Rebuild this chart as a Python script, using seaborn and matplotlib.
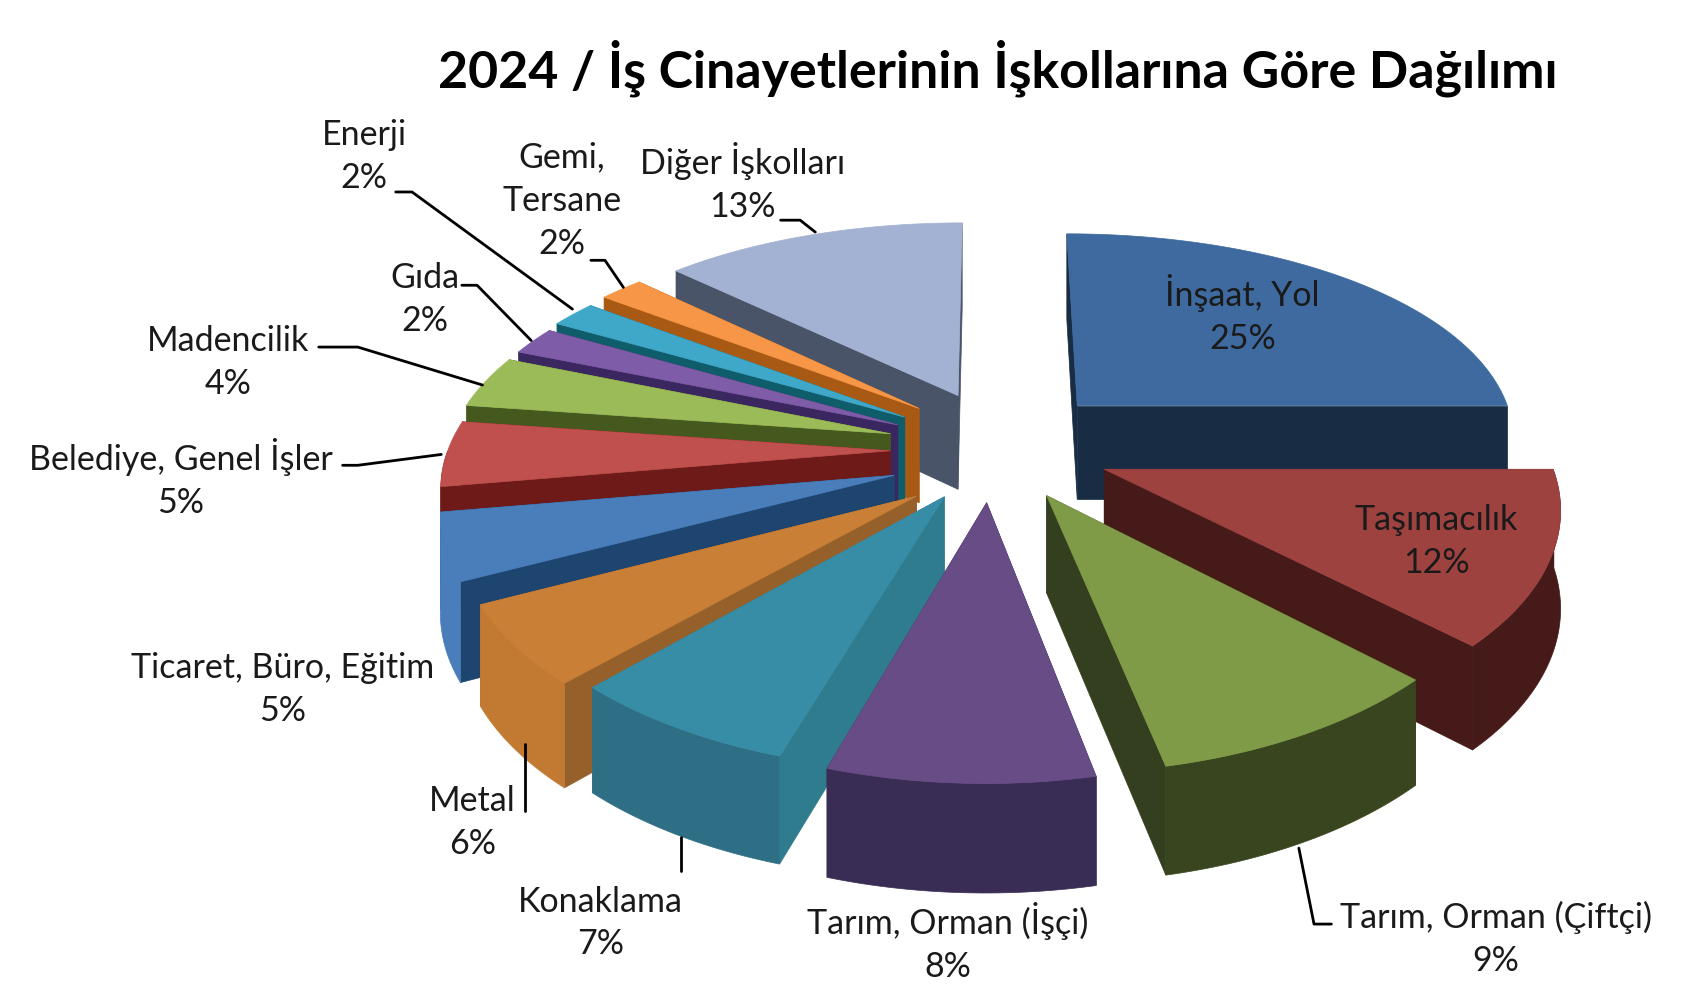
import numpy as np
import matplotlib
matplotlib.use("Agg")
import matplotlib.pyplot as plt
import seaborn as sns

# ---- data ----
categories = ["İnşaat, Yol", "Taşımacılık", "Tarım, Orman (Çiftçi)", "Tarım, Orman (İşçi)",
              "Konaklama", "Metal", "Ticaret, Büro, Eğitim", "Belediye, Genel İşler",
              "Madencilik", "Gıda", "Enerji", "Gemi,\nTersane", "Diğer İşkolları"]
values = [25.0, 12.4, 9.3, 8.1, 7.1, 5.7, 4.8, 4.8, 3.9, 2.1, 2.0, 1.9, 12.9]
explode = [0.28, 0.27, 0.25, 0.25, 0.21, 0.21, 0.23, 0.23, 0.24, 0.24, 0.24, 0.22, 0.20]
shift_y = [0, 0, 0, 0, 9, 20, 12, 3, 0, 0, -2, -8, -12]

top_colors = ["#3E6A9F", "#9E4240", "#7F9B47", "#684C85", "#378DA6", "#C97F35", "#4A7EBB",
              "#C0504D", "#9BBB59", "#7F5CA8", "#3FA8C8", "#F79646", "#A3B2D3"]
wall_colors = ["#182C44", "#451A18", "#333F1E", "#3C2D52", "#2F7C8F", "#96602B", "#1D4570",
               "#6D1A18", "#45591F", "#3B2760", "#0F5C6B", "#A85A14", "#4A5468"]
rim_colors = ["#182C44", "#451A18", "#38451F", "#3A2D55", "#2E6F85", "#C27A33", "#4A7EBB",
              "#6D1A18", "#45591F", "#3B2760", "#0F5C6B", "#A85A14", "#4A5468"]

# picture scale is the 1568x922 view
CX, CY = 915, 412
R = 408
CAM = 7.0
DEPTH = 88


def project(x, y, z=0.0, dy=0.0):
    s = CAM / (CAM - y)
    tilt = 0.485 + 0.012 * y
    return CX + x * s * R, CY + dy + y * tilt * s * R + z * DEPTH * s ** 0.7


def draw_slice(ax, a0, a1, offset, dy, top, wall, rim):
    mid = np.radians((a0 + a1) / 2)
    ox, oy = offset * np.sin(mid), -offset * np.cos(mid)
    theta = np.radians(np.linspace(a0, a1, 80))
    xs, ys = ox + np.sin(theta), oy - np.cos(theta)

    # the two cut faces, the farther one first
    faces = [(xs[0], ys[0]), (xs[-1], ys[-1])]
    faces.sort(key=lambda p: p[1] + oy)
    for fx, fy in faces:
        pts = [project(ox, oy, 0, dy), project(fx, fy, 0, dy), project(fx, fy, 1, dy), project(ox, oy, 1, dy)]
        ax.fill(*zip(*pts), color=wall, lw=0.5, zorder=ax.order)
        ax.order += 1

    # outer rim, only the part facing the viewer
    keep = np.cos(theta) < 0
    if keep.any():
        upper = [project(a, b, 0, dy) for a, b in zip(xs[keep], ys[keep])]
        lower = [project(a, b, 1, dy) for a, b in zip(xs[keep], ys[keep])]
        ax.fill(*zip(*(upper + lower[::-1])), color=rim, lw=0.5, zorder=ax.order)
        ax.order += 1

    pts = [project(ox, oy, 0, dy)] + [project(a, b, 0, dy) for a, b in zip(xs, ys)]
    ax.fill(*zip(*pts), color=top, lw=0.5, zorder=ax.order)
    ax.order += 1


sns.set_theme(style="white")
plt.rcParams["font.family"] = ["Lato", "DejaVu Sans"]

fig, ax = plt.subplots(figsize=(17, 10), dpi=100)
fig.subplots_adjust(0, 0, 1, 1)
ax.set_xlim(0, 1568)
ax.set_ylim(922, 0)
ax.set_axis_off()
ax.order = 2

edges = np.cumsum([0] + values) * 3.6
mids = (edges[:-1] + edges[1:]) / 2
# far slices first so the nearer ones paint over them
for i in np.argsort(-np.cos(np.radians(mids))):
    draw_slice(ax, edges[i], edges[i + 1], explode[i], shift_y[i], top_colors[i], wall_colors[i], rim_colors[i])

ax.text(920, 63, "2024 / İş Cinayetlerinin İşkollarına Göre Dağılımı", ha="center", va="center",
        fontsize=37.4, fontweight="bold", color="black", zorder=50)

# label centres, one per slice
label_x = [1146, 1325, 1380, 874, 554, 436, 261, 167, 210, 392, 336, 518, 685]
label_y = [290, 499, 866, 869, 851, 758, 636, 441, 334, 276, 144, 185, 168]
for i, name in enumerate(categories):
    ax.text(label_x[i], label_y[i], f"{name}\n{values[i]:.0f}%", ha="center", va="center", fontsize=24.5,
            color="#1a1a1a", linespacing=1.42, zorder=60)

# leader lines
leaders = [
    ([1198, 1212, 1228], [782, 852, 852]),
    ([628, 628], [772, 803]),
    ([484, 484], [686, 748]),
    ([365, 380, 528], [177, 177, 285]),
    ([545, 558, 575], [240, 240, 265]),
    ([720, 738, 752], [203, 203, 214]),
    ([426, 440, 490], [263, 263, 314]),
    ([294, 330, 445], [320, 320, 355]),
    ([316, 330, 407], [429, 429, 419]),
]
for lx, ly in leaders:
    ax.plot(lx, ly, color="black", lw=2, zorder=40)

fig.savefig("out.png", dpi=100)
